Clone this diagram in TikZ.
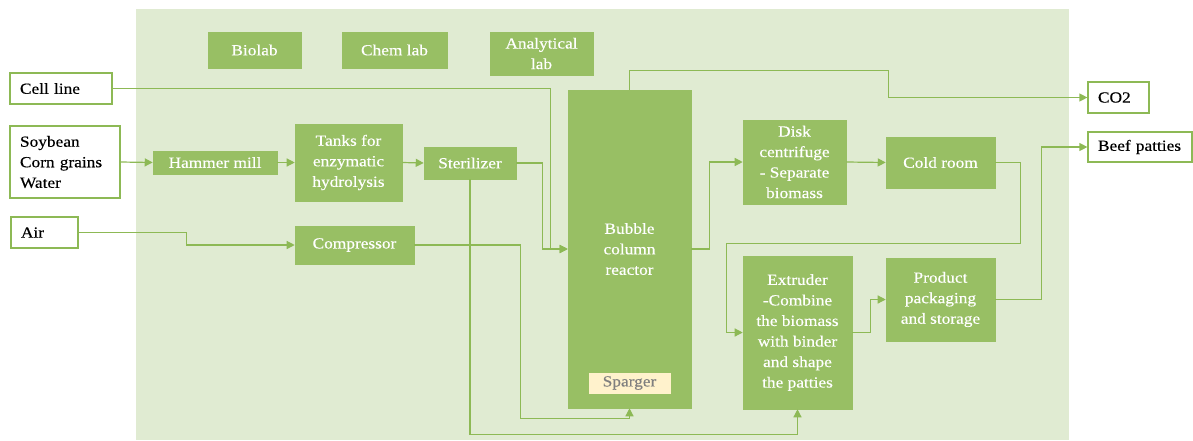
\documentclass[tikz,border=0pt]{standalone}
\usepackage{fontspec}
\setmainfont{Liberation Serif}[FakeStretch=1.12,FakeBold=0.35]
\usetikzlibrary{arrows.meta,calc}

\definecolor{plantbg}{HTML}{E0EBD2}
\definecolor{unitfill}{HTML}{98BF64}
\definecolor{pipe}{HTML}{8DB955}
\definecolor{spargerfill}{HTML}{FFF2CC}
\definecolor{spargertext}{HTML}{7F7F7F}

\tikzset{
  unit/.style={fill=unitfill, draw=unitfill, text=white, inner sep=0pt, align=center,
    font=\fontsize{11.6}{15.4}\selectfont},
  stream/.style={fill=white, draw=pipe, line width=0.9pt, text=black, align=left,
    inner ysep=0pt, inner xsep=7.5pt, font=\fontsize{11.6}{15.4}\selectfont},
  flow/.style={draw=pipe, line width=0.9pt, line join=miter,
    -{Triangle[length=6pt,width=6pt]}}
}

% #1 style, #2 name, #3 x1, #4 y1, #5 x2, #6 y2, #7 text (units are px, y downwards)
\newcommand\unitbox[7]{%
  \node[#1, minimum width={(#5-#3)*0.75pt}, minimum height={(#6-#4)*0.75pt}]
    (#2) at ({(#3+#5)/2},{(#4+#6)/2}) {#7};}
\newcommand\streambox[7]{%
  \node[#1, text width={(#5-#3)*0.75pt-15pt}, minimum height={(#6-#4)*0.75pt}]
    (#2) at ({(#3+#5)/2},{(#4+#6)/2}) {#7};}

\begin{document}
\begin{tikzpicture}[x={(0.75pt,0)}, y={(0,-0.75pt)}]
  \useasboundingbox (0,0) rectangle (1193,440);
  % plant area
  \fill[plantbg] (136,9) rectangle (1069,440);

  % support labs
  \unitbox{unit}{bio}{208}{32}{301}{68}{Biolab}
  \unitbox{unit}{chem}{342}{32}{447}{68}{Chem lab}
  \unitbox{unit}{ana}{490}{32}{593}{75}{Analytical\\lab}

  % incoming and outgoing streams
  \streambox{stream}{cell}{10}{73}{112}{104}{Cell line}
  \streambox{stream}{feed}{10}{126}{120}{198}{Soybean\\Corn grains\\Water}
  \streambox{stream}{air}{11}{217}{78}{248}{Air}
  \streambox{stream}{co2}{1088}{82}{1149}{113}{CO2}
  \streambox{stream}{beef}{1088}{132}{1192}{162}{Beef patties}

  % process units
  \unitbox{unit}{mill}{153}{151}{277}{174}{Hammer mill}
  \unitbox{unit}{tanks}{295}{124}{402}{201}{Tanks for\\enzymatic\\hydrolysis}
  \unitbox{unit}{ster}{424}{147}{516}{179}{Sterilizer}
  \unitbox{unit}{comp}{295}{226}{414}{264}{Compressor}
  \unitbox{unit}{reactor}{568}{90}{691}{408}{Bubble\\column\\reactor}
  \unitbox{unit}{disk}{743}{120}{846}{204}{Disk\\centrifuge\\- Separate\\biomass}
  \unitbox{unit}{cold}{886}{137}{995}{188}{Cold room}
  \unitbox{unit}{extr}{743}{256}{852}{409}{Extruder\\-Combine\\the biomass\\with binder\\and shape\\the patties}
  \unitbox{unit}{pack}{886}{258}{995}{341}{Product\\packaging\\and storage}
  \unitbox{unit,fill=spargerfill,draw=spargerfill,text=spargertext}{sparger}{589}{373}{670}{393}{Sparger}

  % connections
  \draw[flow] (cell.east) -| ($(reactor.west)+(-17,0)$) -- (reactor.west);
  \draw[flow] (feed.east) -- (mill.west);
  \draw[flow] (mill.east) -- (tanks.west);
  \draw[flow] (tanks.east) -- (ster.west);
  \draw[flow] (ster.east) -| ($(reactor.west)+(-25,0)$) -- (reactor.west);
  \draw[flow] (air.east) -- ++(108,0) |- (comp.west);
  \draw[flow] (comp.east) -- ++(106,0) |- ($(reactor.south)+(0,10)$) -- (reactor.south);
  \draw[flow] (ster.south) |- ($(extr.south)+(0,25)$) -- (extr.south);
  \draw[flow] (reactor.east) -- ++(18,0) |- (disk.west);
  \draw[flow] (reactor.north) -- ++(0,-19) -| ($(co2.west)+(-199,0)$) -- (co2.west);
  \draw[flow] (disk.east) -- (cold.west);
  \coordinate (coldturn) at ($(cold.east)+(25,81)$);
  \draw[flow] (cold.east) -| (coldturn) -| ($(extr.west)+(-16,0)$) -- (extr.west);
  \draw[flow] (extr.east) -- ++(18,0) |- (pack.west);
  \draw[flow] (pack.east) -- ++(46,0) |- (beef.west);
\end{tikzpicture}
\end{document}
